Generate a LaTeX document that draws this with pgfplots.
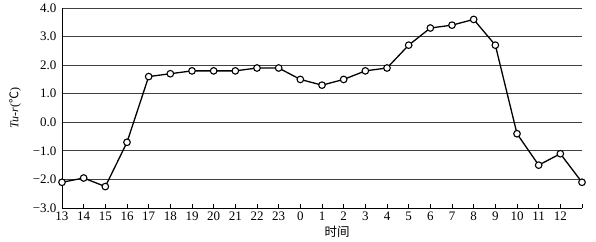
\documentclass[border=0pt]{standalone}
\usepackage{pgfplots}
\pgfplotsset{compat=1.18}
\usepackage{fontspec}
\setmainfont{Liberation Serif}
\newfontfamily\cjk{Noto Sans CJK SC}
\begin{document}
\begin{tikzpicture}
\begin{axis}[
  scale only axis, width=520pt, height=200pt,
  at={(0,0)}, anchor=south west,
  xmin=0, xmax=24, ymin=-3, ymax=4,
  axis x line=bottom, axis y line=left,
  axis line style={-, line width=0.9pt, black},
  xtick={0,...,24},
  xticklabels={13,14,15,16,17,18,19,20,21,22,23,0,1,2,3,4,5,6,7,8,9,10,11,12,{}},
  ytick={-3,-2,-1,0,1,2,3,4},
  yticklabels={−3.0,−2.0,−1.0,0.0,1.0,2.0,3.0,4.0},
  ymajorgrids, grid style={line width=0.9pt, black!75},
  x tick style={black, line width=0.7pt}, tick align=inside,
  major tick length=4pt,
  y tick style={draw=none},
  ticklabel style={font=\fontsize{13}{14}\selectfont},
  yticklabel style={xshift=-2pt},
  xlabel={\cjk\fontsize{12.5}{14}\selectfont 时间},
  xlabel style={at={(axis description cs:0.529,0)}, anchor=center, yshift=-24pt},
  ylabel={\fontsize{12}{14}\selectfont\textit{Tu-r}({\cjk ℃})},
  ylabel style={at={(axis description cs:-0.0904,0.5)}, anchor=center},
  clip=false,
]
\addplot[black, line width=1.3pt, mark=*, mark size=3.3pt, mark options={fill=white, draw=black, line width=1.1pt}]
coordinates {
(0,-2.1)(1,-1.95)(2,-2.25)(3,-0.7)(4,1.6)(5,1.7)(6,1.8)(7,1.8)(8,1.8)(9,1.9)(10,1.9)
(11,1.5)(12,1.3)(13,1.5)(14,1.8)(15,1.9)(16,2.7)(17,3.3)(18,3.4)(19,3.6)(20,2.7)
(21,-0.4)(22,-1.5)(23,-1.1)(24,-2.1)
};
\end{axis}
\pgfresetboundingbox
\path[use as bounding box] (-62pt,-33pt) rectangle (534pt,208pt);
\end{tikzpicture}
\end{document}
